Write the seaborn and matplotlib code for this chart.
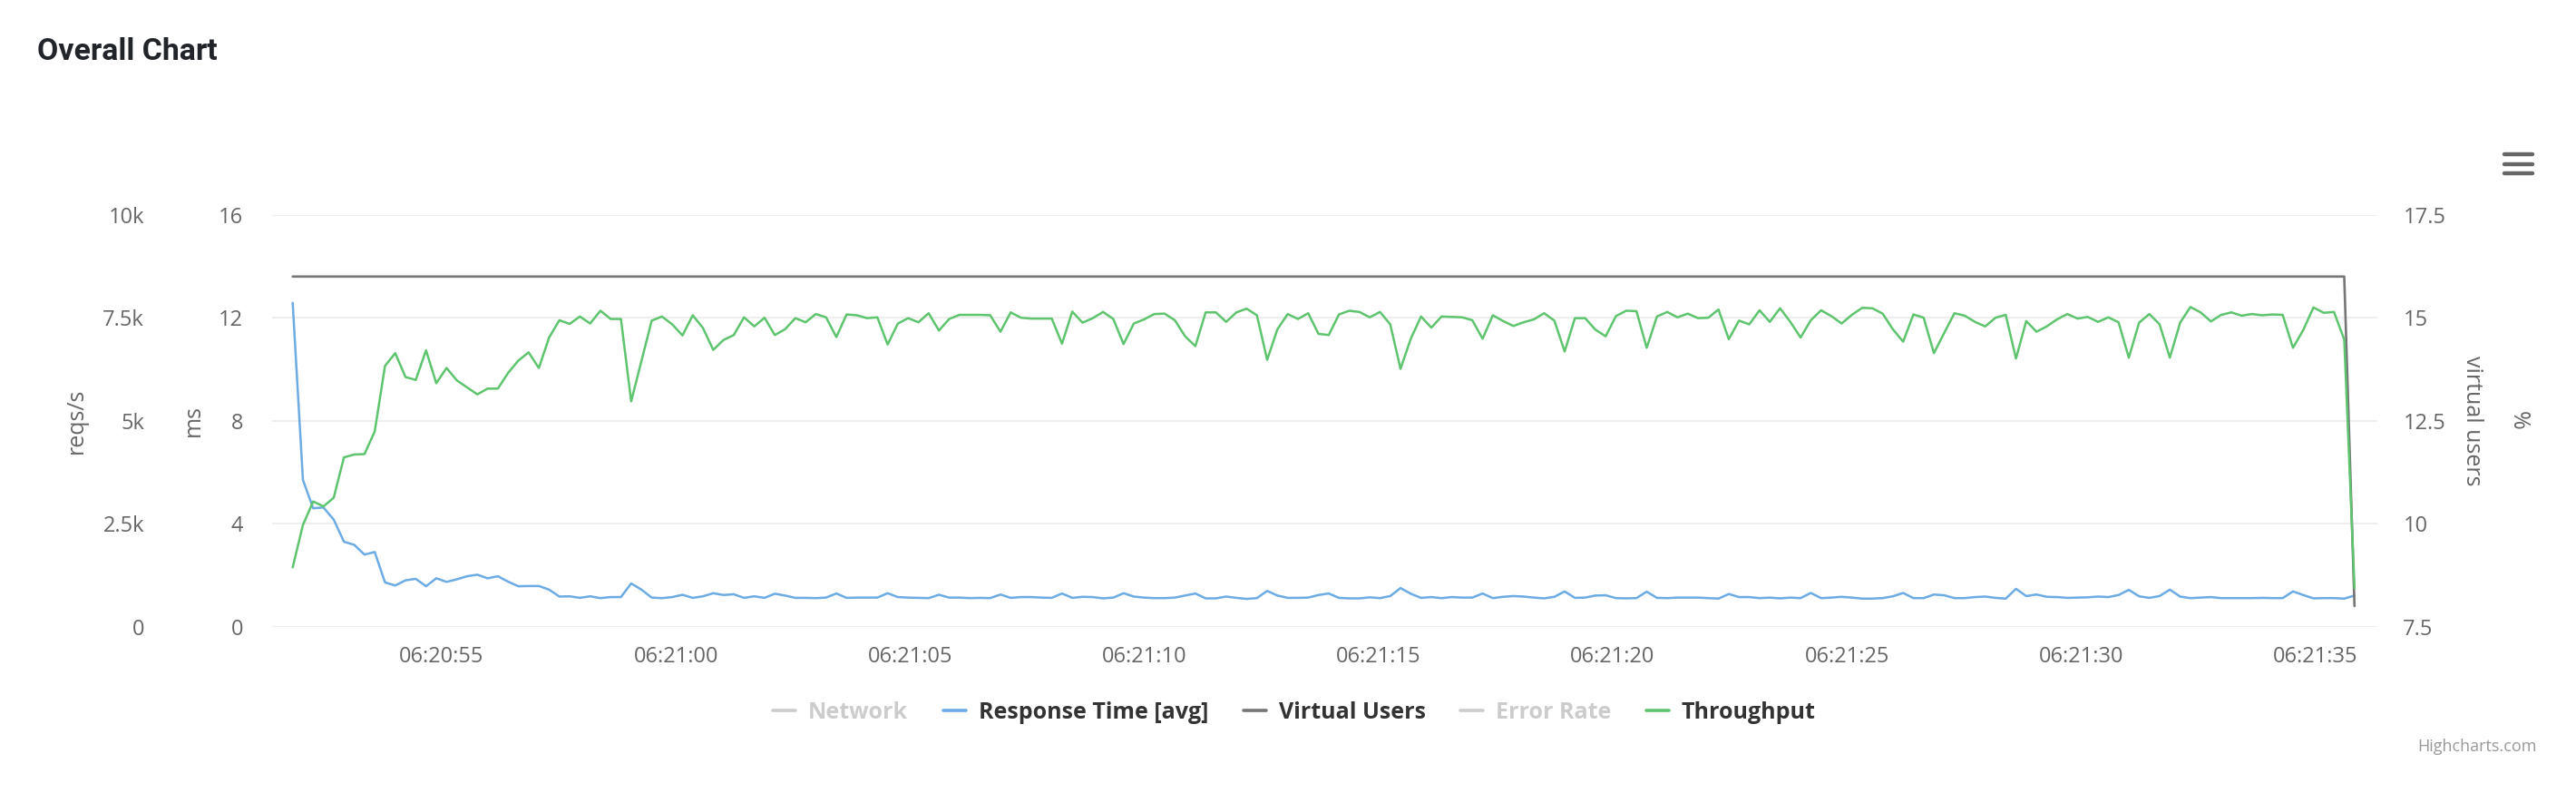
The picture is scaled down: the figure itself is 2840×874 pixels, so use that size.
import pandas as pd
import matplotlib
matplotlib.use('Agg')
import matplotlib.pyplot as plt
import matplotlib.dates as mdates
from matplotlib.lines import Line2D
import seaborn as sns

# ── Data ─────────────────────────────────────
START_TIME = '2024-01-01 06:20:51.818'
STEP = '219ms'

throughput = [
    1440, 2470, 3040, 2920, 3130, 4110, 4180, 4190, 4740, 6330,
    6640, 6060, 5990, 6710, 5910, 6280, 5980, 5810, 5640, 5780,
    5780, 6160, 6460, 6660, 6280, 7020, 7440, 7350, 7530, 7360,
    7670, 7470, 7470, 5470, 6450, 7430, 7530, 7340, 7070, 7560,
    7250, 6720, 6960, 7080, 7510, 7290, 7500, 7080, 7220, 7490,
    7390, 7590, 7510, 7030, 7580, 7560, 7490, 7510, 6850, 7360,
    7490, 7390, 7610, 7190, 7470, 7570, 7570, 7570, 7560, 7160,
    7630, 7500, 7480, 7480, 7480, 6870, 7650, 7380, 7490, 7640,
    7470, 6860, 7360, 7460, 7590, 7600, 7440, 7050, 6810, 7630,
    7630, 7400, 7630, 7720, 7560, 6480, 7220, 7590, 7470, 7610,
    7110, 7080, 7580, 7670, 7640, 7510, 7640, 7340, 6260, 6990,
    7530, 7260, 7530, 7520, 7510, 7440, 6990, 7560, 7420, 7300,
    7390, 7460, 7610, 7430, 6680, 7490, 7490, 7210, 7050, 7540,
    7670, 7660, 6770, 7530, 7640, 7510, 7600, 7490, 7500, 7700,
    6980, 7430, 7340, 7680, 7400, 7730, 7400, 7020, 7440, 7680,
    7540, 7360, 7570, 7740, 7730, 7600, 7220, 6920, 7580, 7500,
    6640, 7130, 7610, 7550, 7400, 7290, 7500, 7570, 6510, 7420,
    7160, 7290, 7460, 7590, 7480, 7520, 7400, 7510, 7390, 6530,
    7380, 7590, 7340, 6530, 7380, 7760, 7630, 7410, 7570, 7630,
    7550, 7590, 7560, 7580, 7570, 6770, 7200, 7750, 7620, 7640,
    6970, 940,
]

response_ms = [
    12.58, 5.70, 4.60, 4.63, 4.16, 3.30, 3.18, 2.80, 2.90, 1.72,
    1.60, 1.80, 1.86, 1.57, 1.88, 1.74, 1.84, 1.96, 2.02, 1.88,
    1.96, 1.75, 1.57, 1.58, 1.58, 1.44, 1.17, 1.18, 1.12, 1.18,
    1.11, 1.15, 1.15, 1.68, 1.44, 1.13, 1.11, 1.15, 1.24, 1.12,
    1.18, 1.30, 1.23, 1.26, 1.12, 1.18, 1.12, 1.28, 1.21, 1.12,
    1.12, 1.11, 1.13, 1.29, 1.12, 1.13, 1.13, 1.13, 1.30, 1.15,
    1.13, 1.12, 1.11, 1.24, 1.13, 1.13, 1.11, 1.12, 1.11, 1.25,
    1.12, 1.15, 1.15, 1.13, 1.12, 1.29, 1.12, 1.16, 1.15, 1.10,
    1.13, 1.30, 1.17, 1.13, 1.11, 1.11, 1.13, 1.21, 1.29, 1.10,
    1.10, 1.17, 1.12, 1.08, 1.11, 1.39, 1.21, 1.12, 1.12, 1.13,
    1.23, 1.29, 1.12, 1.10, 1.10, 1.14, 1.11, 1.19, 1.50, 1.28,
    1.12, 1.15, 1.11, 1.15, 1.13, 1.13, 1.29, 1.11, 1.16, 1.19,
    1.17, 1.13, 1.10, 1.16, 1.37, 1.12, 1.13, 1.21, 1.22, 1.11,
    1.10, 1.11, 1.36, 1.12, 1.11, 1.13, 1.13, 1.13, 1.11, 1.09,
    1.27, 1.15, 1.15, 1.11, 1.13, 1.10, 1.13, 1.11, 1.31, 1.11,
    1.13, 1.16, 1.13, 1.09, 1.09, 1.11, 1.18, 1.31, 1.11, 1.11,
    1.25, 1.22, 1.11, 1.11, 1.15, 1.17, 1.12, 1.09, 1.47, 1.19,
    1.25, 1.16, 1.15, 1.12, 1.13, 1.14, 1.17, 1.15, 1.23, 1.43,
    1.18, 1.12, 1.19, 1.44, 1.17, 1.11, 1.13, 1.15, 1.11, 1.11,
    1.11, 1.11, 1.12, 1.11, 1.11, 1.37, 1.23, 1.10, 1.11, 1.11,
    1.09, 1.21,
]

virtual_users = [16] * 201 + [8]

legend_names = ['Network', 'Response Time [avg]', 'Virtual Users', 'Error Rate', 'Throughput']
legend_hidden = [True, False, False, True, False]

tp_ticks = [0, 2500, 5000, 7500, 10000]
tp_labels = ['0', '2.5k', '5k', '7.5k', '10k']
ms_ticks = [0, 4, 8, 12, 16]
vu_ticks = [7.5, 10, 12.5, 15, 17.5]
vu_labels = ['7.5', '10', '12.5', '15', '17.5']

# ── Style ────────────────────────────────────
BLUE = '#6cabe3'
GRAY = '#767676'
GREEN = '#5ec46e'
HIDDEN = '#cccccc'
LABEL = '#666666'
GRID = '#e9e9e9'

sns.set_theme(style='white')
plt.rcParams['font.family'] = ['Open Sans', 'DejaVu Sans']

df = pd.DataFrame({
    'time': pd.date_range(START_TIME, periods=len(throughput), freq=STEP),
    'throughput': throughput,
    'response': response_ms,
    'vus': virtual_users,
})

fig = plt.figure(figsize=(14.2, 4.37), dpi=200)
ax_ms = fig.add_axes([300 / 2840, 1 - 690.7 / 874, 2321 / 2840, 454 / 874])
ax_vu = ax_ms.twinx()
ax_pct = ax_ms.twinx()
ax_tp = ax_ms.twinx()

# ── Lines ────────────────────────────────────
sns.lineplot(data=df, x='time', y='response', ax=ax_ms, color=BLUE, lw=0.9)
sns.lineplot(data=df, x='time', y='vus', ax=ax_vu, color=GRAY, lw=0.95)
sns.lineplot(data=df, x='time', y='throughput', ax=ax_tp, color=GREEN, lw=0.9)

for a in (ax_ms, ax_vu, ax_pct, ax_tp):
    for s in a.spines.values():
        s.set_visible(False)

ax_ms.set_xlim(pd.Timestamp('2024-01-01 06:20:51.379'), pd.Timestamp('2024-01-01 06:21:36.325'))

# x axis
ax_ms.xaxis.set_major_locator(mdates.SecondLocator(bysecond=range(0, 60, 5)))
ax_ms.xaxis.set_major_formatter(mdates.DateFormatter('%H:%M:%S'))
ax_ms.tick_params(axis='x', length=6.7, width=0.5, color='#ccd6eb', pad=1.0,
                  labelsize=8.5, labelcolor=LABEL)
ax_ms.set_xlabel('')

# ms axis (inner left)
ax_ms.set_ylim(0, 16)
ax_ms.set_yticks(ms_ticks)
ax_ms.set_yticklabels([str(t) for t in ms_ticks])
ax_ms.tick_params(axis='y', length=0, pad=11.5, labelsize=8.5, labelcolor=LABEL)
ax_ms.grid(axis='y', color=GRID, lw=0.55)
ax_ms.grid(axis='x', visible=False)
ax_ms.set_axisbelow(True)
ax_ms.set_ylabel('ms', fontsize=9, color=LABEL, va='center')
ax_ms.yaxis.set_label_coords(-0.0375, 0.5)

# throughput axis (outer left)
ax_tp.yaxis.tick_left()
ax_tp.yaxis.set_label_position('left')
ax_tp.set_ylim(0, 10000)
ax_tp.set_yticks(tp_ticks)
ax_tp.set_yticklabels(tp_labels)
ax_tp.tick_params(axis='y', length=0, pad=50.8, labelsize=8.5, labelcolor=LABEL)
ax_tp.set_ylabel('reqs/s', fontsize=9, color=LABEL, va='center')
ax_tp.yaxis.set_label_coords(-0.0931, 0.5)

# virtual users axis (right)
ax_vu.set_ylim(7.5, 17.5)
ax_vu.set_yticks(vu_ticks)
ax_vu.set_yticklabels(vu_labels)
ax_vu.tick_params(axis='y', length=0, pad=10.2, labelsize=8.5, labelcolor=LABEL)
ax_vu.set_ylabel('virtual users', fontsize=9, color=LABEL, rotation=270, va='center')
ax_vu.yaxis.set_label_coords(1.0452, 0.5)

# error rate axis (right, only title)
ax_pct.set_ylim(0, 100)
ax_pct.set_yticks([])
ax_pct.set_ylabel('%', fontsize=9, color=LABEL, rotation=270, va='center')
ax_pct.yaxis.set_label_coords(1.0670, 0.5)

# ── Legend ───────────────────────────────────
colors = [HIDDEN, BLUE, GRAY, HIDDEN, GREEN]
handles = [Line2D([], [], color=c, lw=1.3) for c in colors]
leg = fig.legend(handles, legend_names, ncol=5, loc='center',
                 bbox_to_anchor=(0.5025, 1 - 785.5 / 874), frameon=False,
                 prop={'size': 9.0, 'weight': 'bold'},
                 handlelength=1.0, handletextpad=0.55, columnspacing=1.55)
for txt, hid in zip(leg.get_texts(), legend_hidden):
    txt.set_color(HIDDEN if hid else '#333333')

# ── Title, credit, menu icon ─────────────────
fig.text(41 / 2840, 1 - 66 / 874, 'Overall Chart', fontsize=12.2, fontweight='bold',
         family=['Roboto', 'DejaVu Sans'], color='#212529', va='baseline')
fig.text(2797 / 2840, 1 - 823 / 874, 'Highcharts.com', ha='right', va='center',
         fontsize=6.5, color='#999999')
for yy in (170, 181, 191):
    fig.add_artist(Line2D([2761 / 2840, 2792 / 2840], [1 - yy / 874, 1 - yy / 874],
                          color='#666666', lw=1.6, solid_capstyle='round',
                          transform=fig.transFigure))

plt.savefig('out.png', dpi=200)
plt.close()
